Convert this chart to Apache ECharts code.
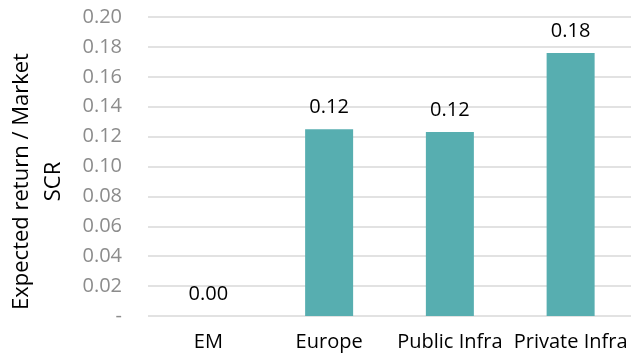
<!DOCTYPE html>
<html>
<head>
<meta charset="utf-8">
<script src="https://cdn.jsdelivr.net/npm/echarts@6/dist/echarts.min.js"></script>
<style>
html, body { margin: 0; padding: 0; background: #fff; }
#chart { width: 631px; height: 360px; }
</style>
</head>
<body>
<div id="chart"></div>
<script>
// categories and values
var categories = ['EM', 'Europe', 'Public Infra', 'Private Infra'];
var ratios = [0.0, 0.125, 0.123, 0.176];
var ratioLabels = ['0.00', '0.12', '0.12', '0.18'];

var chart = echarts.init(document.getElementById('chart'));
var option = {
    animation: false,
    textStyle: { fontFamily: 'Open Sans' },
    grid: { left: 148, right: 0, top: 17, bottom: 44, outerBoundsMode: 'none' },
    xAxis: {
        type: 'category',
        data: categories,
        axisLine: { show: false },
        axisTick: { show: false },
        axisLabel: { color: '#000', fontSize: 20, margin: 16, interval: 0, hideOverlap: false }
    },
    yAxis: {
        type: 'value',
        min: 0,
        max: 0.2,
        interval: 0.02,
        name: 'Expected return / Market\nSCR',
        nameLocation: 'middle',
        nameGap: 78,
        nameTextStyle: { color: '#000', fontSize: 22, lineHeight: 32, align: 'center', padding: [0, 30, 0, 0] },
        axisLine: { show: false },
        axisTick: { show: false },
        axisLabel: {
            color: '#8c8c8c',
            fontSize: 20,
            margin: 26,
            formatter: function (v) { return v === 0 ? '-' : v.toFixed(2); }
        },
        splitLine: { lineStyle: { color: '#d9d9d9', width: 1.5 } }
    },
    series: [{
        type: 'bar',
        data: ratios,
        barWidth: 48,
        itemStyle: { color: '#57aeb0' },
        label: {
            show: true,
            position: 'top',
            distance: 12,
            color: '#000',
            fontSize: 20,
            formatter: function (p) { return ratioLabels[p.dataIndex]; }
        }
    }]
};
chart.setOption(option);
</script>
</body>
</html>
